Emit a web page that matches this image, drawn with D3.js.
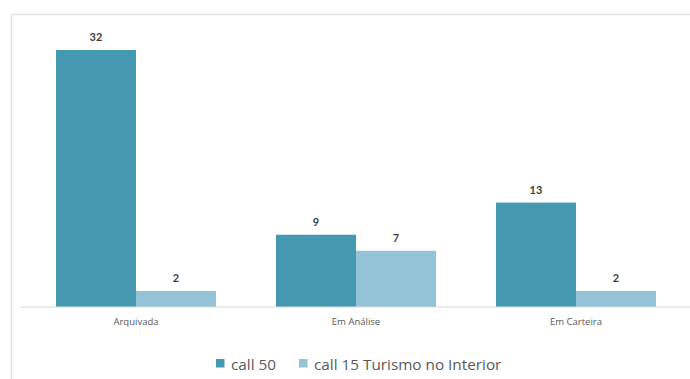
<!DOCTYPE html>
<html><head><meta charset="utf-8">
<script src="https://cdn.jsdelivr.net/npm/d3@7"></script>
<style>body{margin:0;background:#fff}svg{display:block}</style>
</head><body>
<svg id="c" width="690" height="379"></svg>
<script>
const categories = ["Arquivada", "Em Análise", "Em Carteira"];
const seriesNames = ["call 50", "call 15 Turismo no Interior"];
const call50 = [32, 9, 13];
const call15 = [2, 7, 2];
const colors = ["#4499b0", "#93c3d6"];

const svg = d3.select("#c");
const baseY = 307, topY = 50;

// frame
svg.append("path").attr("d", "M11.5,379 V14.5 H690").attr("fill", "none").attr("stroke", "#e3e3e3").attr("stroke-width", 1.5);

const x = d3.scaleBand().domain(categories).range([26, 686]).paddingInner(0).paddingOuter(0);
const x1 = d3.scaleBand().domain(seriesNames).range([30, 190]);
const y = d3.scaleLinear().domain([0, 32]).range([baseY, topY]);

const data = categories.map((c, i) => ({cat: c, vals: [call50[i], call15[i]]}));

const g = svg.append("g");
data.forEach(d => {
  d.vals.forEach((v, j) => {
    const bx = x(d.cat) + x1(seriesNames[j]);
    g.append("rect").attr("x", bx).attr("y", y(v)).attr("width", x1.bandwidth()).attr("height", y(0) - y(v)).attr("fill", colors[j]);
    g.append("text").attr("x", bx + x1.bandwidth() / 2).attr("y", y(v) - 9)
      .attr("text-anchor", "middle").attr("font-family", "Lato, 'Open Sans', sans-serif")
      .attr("font-size", 11).attr("font-weight", "bold").attr("fill", "#404040").text(v);
  });
});

// axis
const axis = d3.axisBottom(x).tickSize(0).tickPadding(11);
const ag = svg.append("g").attr("transform", `translate(0,${baseY})`).call(axis);
ag.select(".domain").attr("stroke", "#d9d9d9").attr("stroke-width", 1.2).attr("d", "M20,0H690");
ag.selectAll("text").attr("font-family", "'Open Sans', sans-serif").attr("font-size", 9.5).attr("fill", "#595959");

// legend
const leg = svg.append("g").attr("font-family", "'Open Sans', sans-serif").attr("font-size", 15.3).attr("fill", "#595959");
const legX = [216, 299];
seriesNames.forEach((s, j) => {
  leg.append("rect").attr("x", legX[j]).attr("y", 359).attr("width", 8.5).attr("height", 8.5).attr("fill", colors[j]);
  leg.append("text").attr("x", legX[j] + 15).attr("y", 369.5).attr("fill", "#595959").text(s);
});
</script>
</body></html>
